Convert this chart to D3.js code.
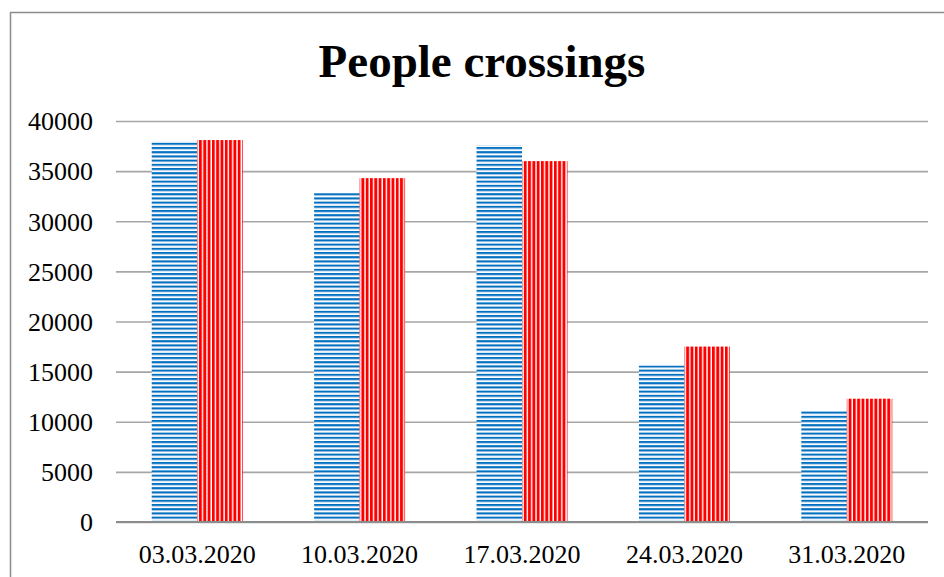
<!DOCTYPE html>
<html>
<head>
<meta charset="utf-8">
<script src="https://cdn.jsdelivr.net/npm/d3@7/dist/d3.min.js"></script>
<style>
html,body{margin:0;padding:0;background:#fff;}
svg{display:block;}
</style>
</head>
<body>
<svg id="chart" width="944" height="577"></svg>
<script>
const categories = ["03.03.2020","10.03.2020","17.03.2020","24.03.2020","31.03.2020"];
const seriesNames = ["Series A","Series B"];
const seriesA = [38000, 32800, 37600, 15600, 11100];
const seriesB = [38100, 34300, 36000, 17500, 12300];
const yTicks = [0,5000,10000,15000,20000,25000,30000,35000,40000];
const title = "People crossings";

const svg = d3.select("#chart");
const W = 944, H = 577;
const plot = {left:116, right:928, top:121, bottom:522};

// patterns
const defs = svg.append("defs");
const pA = defs.append("pattern").attr("id","patA").attr("patternUnits","userSpaceOnUse")
  .attr("width",8).attr("height",4.2);
pA.append("rect").attr("width",8).attr("height",4.2).attr("fill","#fff");
pA.append("rect").attr("y",0).attr("width",8).attr("height",1.8).attr("fill","#0070C0");
pA.append("rect").attr("y",1.8).attr("width",8).attr("height",0.8).attr("fill","#7fb0dd");
const pB = defs.append("pattern").attr("id","patB").attr("patternUnits","userSpaceOnUse")
  .attr("width",4.3).attr("height",8);
pB.append("rect").attr("width",4.3).attr("height",8).attr("fill","#fff");
pB.append("rect").attr("x",0).attr("width",2.6).attr("height",8).attr("fill","#FF0000");
pB.append("rect").attr("x",2.6).attr("width",0.6).attr("height",8).attr("fill","#ff8080");

// border
svg.append("path").attr("d",`M10.5,${H} L10.5,12.5 L${W},12.5`)
  .attr("fill","none").attr("stroke","#8c8c8c").attr("stroke-width",1.5);

// title
svg.append("text").attr("x",482).attr("y",77).attr("text-anchor","middle")
  .attr("font-family","'Liberation Serif','Times New Roman',serif")
  .attr("font-weight","bold").attr("font-size",47).attr("fill","#000").text(title);

const y = d3.scaleLinear().domain([0,40000]).range([plot.bottom, plot.top]);
const x0 = d3.scaleBand().domain(categories).range([plot.left, plot.right])
  .paddingInner(0.44).paddingOuter(0.22);
const x1 = d3.scaleBand().domain(seriesNames).range([0, x0.bandwidth()]);

// gridlines via axis
const gAxis = svg.append("g").attr("transform",`translate(${plot.left},0)`)
  .call(d3.axisRight(y).tickValues(yTicks).tickSize(plot.right-plot.left).tickFormat(""));
gAxis.select(".domain").remove();
gAxis.selectAll(".tick line").attr("stroke","#a6a6a6").attr("stroke-width",1.6);

// y labels
const gY = svg.append("g").attr("transform",`translate(93,0)`)
  .call(d3.axisLeft(y).tickValues(yTicks).tickSize(0).tickPadding(0).tickFormat(d3.format("d")));
gY.select(".domain").remove();
gY.selectAll("text").attr("font-family","'Liberation Serif','Times New Roman',serif")
  .attr("font-size",26).attr("fill","#000").attr("text-anchor","end").attr("dy","0.34em");

// bars
const data = categories.map((c,i)=>({cat:c, vals:[
  {s:seriesNames[0], v:seriesA[i], fill:"url(#patA)"},
  {s:seriesNames[1], v:seriesB[i], fill:"url(#patB)"}]}));
const groups = svg.append("g").selectAll("g").data(data).join("g")
  .attr("transform",d=>`translate(${x0(d.cat)},0)`);
groups.selectAll("rect").data(d=>d.vals).join("rect")
  .attr("x",d=>x1(d.s)).attr("width",x1.bandwidth())
  .attr("y",d=>y(d.v)).attr("height",d=>y(0)-y(d.v))
  .attr("fill",d=>d.fill);

// baseline
svg.append("line").attr("x1",plot.left).attr("x2",plot.right)
  .attr("y1",y(0)).attr("y2",y(0)).attr("stroke","#8c8c8c").attr("stroke-width",2);

// x labels
const gX = svg.append("g").attr("transform",`translate(0,${plot.bottom})`)
  .call(d3.axisBottom(x0).tickSize(0).tickPadding(0));
gX.select(".domain").remove();
gX.selectAll("text").attr("font-family","'Liberation Serif','Times New Roman',serif")
  .attr("font-size",26).attr("fill","#000").attr("dy",null).attr("y",41);
</script>
</body>
</html>
